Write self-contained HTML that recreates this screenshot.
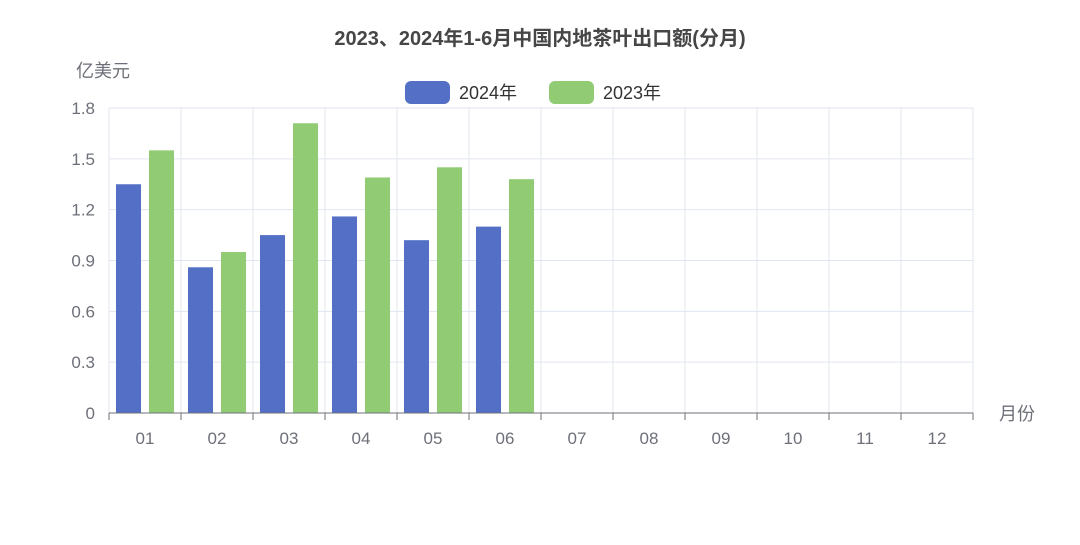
<!DOCTYPE html>
<html><head><meta charset="utf-8"><style>
body{margin:0;background:#fff;}
svg text{font-family:"Liberation Sans","Noto Sans CJK SC",sans-serif;}
</style></head><body>
<svg width="1080" height="540" xmlns="http://www.w3.org/2000/svg" id="chart">
<rect width="1080" height="540" fill="#fff"/>
<text x="540" y="45" text-anchor="middle" font-size="20" font-weight="bold" fill="#464646">2023、2024年1-6月中国内地茶叶出口额(分月)</text>
<text x="76" y="77" font-size="18" fill="#6e7079">亿美元</text>
<text x="999" y="420" font-size="18" fill="#6e7079">月份</text>
<g><rect x="405" y="81" width="45" height="23" rx="6" fill="#5470c6"/><text x="459" y="99" font-size="18" fill="#333">2024年</text></g>
<g><rect x="549" y="81" width="45" height="23" rx="6" fill="#91cc75"/><text x="603" y="99" font-size="18" fill="#333">2023年</text></g>
<g id="grid"></g><g id="bars"></g><g id="axes"></g>
</svg>
<script>
const categories=["01","02","03","04","05","06","07","08","09","10","11","12"];
const values2024=[1.35,0.86,1.05,1.16,1.02,1.10,0,0,0,0,0,0];
const values2023=[1.55,0.95,1.71,1.39,1.45,1.38,0,0,0,0,0,0];
const yTicks=[0,0.3,0.6,0.9,1.2,1.5,1.8];
const yTickLabels=["0","0.3","0.6","0.9","1.2","1.5","1.8"];
const NS="http://www.w3.org/2000/svg";
const L=109,R=973,T=108,B=413,yMax=1.8;
const y=v=>B-(v/yMax)*(B-T);
const band=(R-L)/categories.length;
const x=i=>L+i*band;
function mk(tag,attrs,parent){const e=document.createElementNS(NS,tag);for(const k in attrs)e.setAttribute(k,attrs[k]);parent.appendChild(e);return e;}
const grid=document.getElementById('grid'),bars=document.getElementById('bars'),axes=document.getElementById('axes');
yTicks.forEach((t,i)=>{
  if(t>0){const g=mk('line',{x1:L,x2:R,y1:y(t),y2:y(t),stroke:'#e0e6f1'},grid);
  
  }
  const tx=mk('text',{x:L-14,y:y(t)+6,'text-anchor':'end','font-size':17,fill:'#6e7079'},axes);
  tx.textContent=yTickLabels[i];
  
  
});
for(let i=0;i<=categories.length;i++){
  const g=mk('line',{x1:x(i),x2:x(i),y1:T,y2:B,stroke:'#e0e6f1'},grid);
  
  
  const tk=mk('line',{x1:x(i),x2:x(i),y1:B,y2:B+7,stroke:'#6e7079'},axes);
  
  
}
const al=mk('line',{x1:L,x2:R,y1:B,y2:B,stroke:'#6e7079'},axes);


const bw=25;
categories.forEach((c,i)=>{
  const cx=x(i)+band/2;
  const tx=mk('text',{x:cx,y:B+31,'text-anchor':'middle','font-size':17,fill:'#6e7079'},axes);
  tx.textContent=c;
  
  
  if(values2024[i]>0){const b=mk('rect',{x:cx-4-bw,y:y(values2024[i]),width:bw,height:B-y(values2024[i]),fill:'#5470c6'},bars);
  
  }
  if(values2023[i]>0){const b=mk('rect',{x:cx+4,y:y(values2023[i]),width:bw,height:B-y(values2023[i]),fill:'#91cc75'},bars);
  
  }
});
</script>
</body></html>
